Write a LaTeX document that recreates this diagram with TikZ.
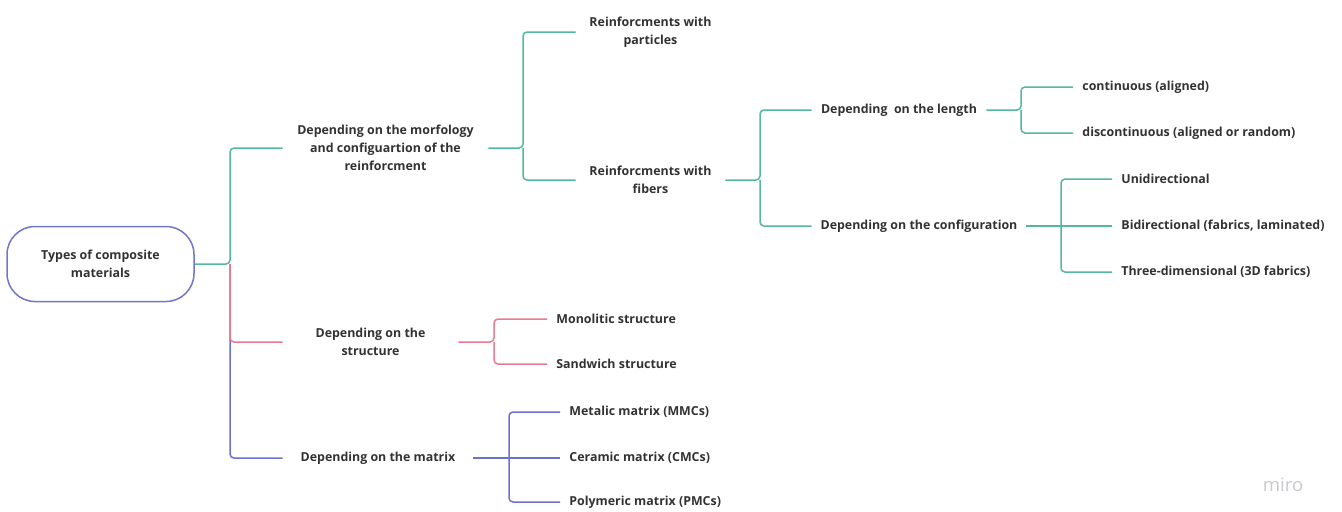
\documentclass[tikz,border=0pt]{standalone}
\usepackage{fontspec}
\setmainfont{Open Sans}
\usetikzlibrary{positioning}

\definecolor{tealline}{RGB}{82,185,160}
\definecolor{pinkline}{RGB}{232,122,146}
\definecolor{blueline}{RGB}{108,114,206}
\definecolor{rootline}{RGB}{112,118,200}
\definecolor{inkgray}{RGB}{50,50,52}
\definecolor{mirogray}{RGB}{200,200,206}

\tikzset{
    every node/.style={font=\bfseries\fontsize{6.2}{8.9}\selectfont, text=inkgray},
    topic/.style={align=center, inner xsep=0pt, inner ysep=1pt},
    leaf/.style={anchor=west, inner xsep=4.5pt},
    link/.style={line width=0.75pt, rounded corners=2pt},
}

\begin{document}
\begin{tikzpicture}[x=0.5pt,y=-0.5pt]
    \useasboundingbox (0,0) rectangle (1342,511);

    % root
    \node[draw=rootline, line width=0.75pt, rounded corners=14pt, minimum width=93.5pt,
          minimum height=37.5pt, align=center] (root) at (100.5,264) {Types of composite\\materials};

    % first level
    \node[topic, minimum width=102.5pt] (morph) at (385.5,148) {Depending on the morfology\\and configuartion of the\\reinforcment};
    \node[topic, minimum width=87.5pt] (struct) at (370.5,342) {Depending on the\\structure};
    \node[topic, minimum width=95pt] (matrix) at (378,458) {Depending on the matrix};

    % second and third level
    \node[topic, minimum width=74.5pt] (part) at (650.5,32) {Reinforcments with\\particles};
    \node[topic, minimum width=74.5pt] (fib) at (650.5,180) {Reinforcments with\\fibers};
    \node[topic, minimum width=87pt] (len) at (899,110) {Depending\ \ on the length};
    \node[topic, minimum width=107pt] (conf) at (919,226) {Depending on the configuration};

    % leaves
    \node[leaf] (cont) at (1073,87) {continuous (aligned)};
    \node[leaf] (disc) at (1073,133) {discontinuous (aligned or random)};
    \node[leaf] (uni) at (1112,179) {Unidirectional};
    \node[leaf] (bi) at (1112,226) {Bidirectional (fabrics, laminated)};
    \node[leaf] (three) at (1112,272) {Three-dimensional (3D fabrics)};
    \node[leaf] (mono) at (547,319) {Monolitic structure};
    \node[leaf] (sand) at (547,364) {Sandwich structure};
    \node[leaf] (metal) at (560,412) {Metalic matrix (MMCs)};
    \node[leaf] (ceram) at (560,458) {Ceramic matrix (CMCs)};
    \node[leaf] (poly) at (560,502) {Polymeric matrix (PMCs)};

    \node[font=\mdseries\fontsize{9.3}{9.3}\selectfont, text=mirogray] (miro) at (1283,485) {miro};

    % junctions
    \coordinate (trunk) at (230,264);
    \coordinate (jmorph) at (523,148);
    \coordinate (jfib) at (760,180);
    \coordinate (jlen) at (1021,110);
    \coordinate (jconf) at (1061,226);
    \coordinate (jstruct) at (494,342);
    \coordinate (jmatrix) at (509,458);

    % connectors
    \draw[link, blueline] (trunk) |- (matrix.west);
    \draw[link, pinkline] (trunk) |- (struct.west);
    \draw[link, tealline] (root.east) -- (trunk) |- (morph.west);

    \draw[link, tealline] (morph.east) -- (jmorph) |- (part.west);
    \draw[link, tealline] (jmorph) |- (fib.west);
    \draw[link, tealline] (fib.east) -- (jfib) |- (len.west);
    \draw[link, tealline] (jfib) |- (conf.west);
    \draw[link, tealline] (len.east) -- (jlen) |- (cont.west);
    \draw[link, tealline] (jlen) |- (disc.west);
    \draw[link, tealline] (conf.east) -- (jconf) -- (bi.west);
    \foreach \leaf in {uni, three}
        \draw[link, tealline] (jconf) |- (\leaf.west);

    \draw[link, pinkline] (struct.east) -- (jstruct) |- (mono.west);
    \draw[link, pinkline] (jstruct) |- (sand.west);

    \draw[link, blueline] (matrix.east) -- (jmatrix) -- (ceram.west);
    \foreach \leaf in {metal, poly}
        \draw[link, blueline] (jmatrix) |- (\leaf.west);

\end{tikzpicture}
\end{document}
